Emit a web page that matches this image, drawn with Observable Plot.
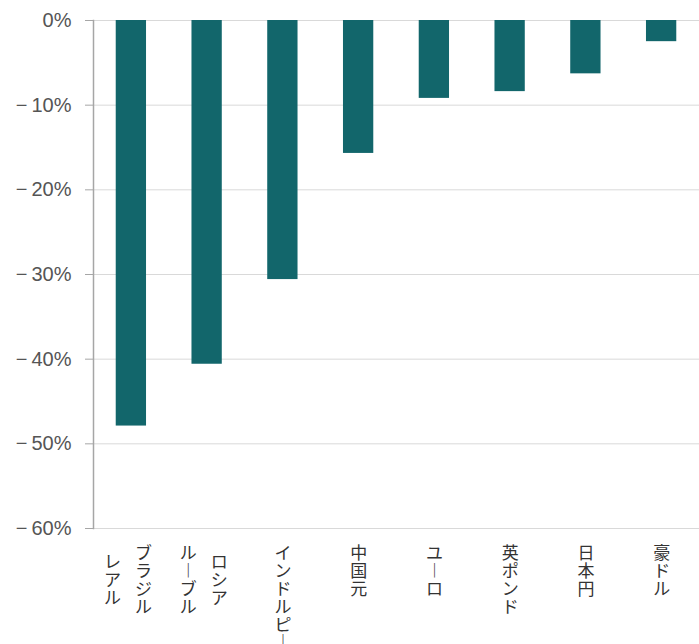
<!DOCTYPE html>
<html>
<head>
<meta charset="utf-8">
<script src="https://cdn.jsdelivr.net/npm/d3@7"></script>
<script src="https://cdn.jsdelivr.net/npm/@observablehq/plot@0.6"></script>
<style>
  html, body { margin: 0; padding: 0; background: #fff; }
  #chart svg { display: block; }
</style>
</head>
<body>
<div id="chart"></div>
<script>
// Currency changes against the US dollar (%)
const currencies = ["ブラジルレアル", "ロシアルーブル", "インドルピー", "中国元", "ユーロ", "英ポンド", "日本円", "豪ドル"];
const changes = [-47.9, -40.6, -30.6, -15.7, -9.2, -8.4, -6.3, -2.5];
// Vertical label columns, read right to left
const labelColumns = [["ブラジル", "レアル"], ["ロシア", "ルーブル"], ["インドルピー"], ["中国元"], ["ユーロ"], ["英ポンド"], ["日本円"], ["豪ドル"]];
const yTicks = [0, -10, -20, -30, -40, -50, -60];

const data = currencies.map((name, i) => ({name, value: changes[i]}));

const fontSize = 17;
const lineHeight = 1.05;
const pitch = fontSize * lineHeight;
const baseDy = 18;

// vertical text: one glyph per line, long vowel mark turned upright
const verticalize = (s) => Array.from(s).map(c => c === "ー" ? "︱" : c).join("\n");

const labelMarks = [];
currencies.forEach((name, i) => {
  const cols = labelColumns[i];
  const maxLen = d3.max(cols, c => Array.from(c).length);
  cols.forEach((col, j) => {
    const len = Array.from(col).length;
    const dx = cols.length === 1 ? 0 : (j === 0 ? 12 : -19);
    const dy = baseDy + (cols.length === 1 ? 0 : (maxLen - len) * pitch / 2);
    labelMarks.push(Plot.text([{name, text: verticalize(col)}], {
      x: "name",
      text: "text",
      frameAnchor: "bottom",
      lineAnchor: "top",
      dx, dy,
      fontSize,
      lineHeight,
      fill: "#333"
    }));
  });
});

const fmt = (d) => d === 0 ? "0%" : "−\u2009" + Math.abs(d) + "%";

const chart = Plot.plot({
  width: 699,
  height: 644,
  marginLeft: 93,
  marginRight: 0,
  marginTop: 20,
  marginBottom: 116,
  style: {fontFamily: "'Noto Sans CJK JP', sans-serif", background: "#fff"},
  x: {domain: currencies, paddingInner: 0.6, paddingOuter: 0.3, round: false, axis: null},
  y: {domain: [-60, 0], axis: null},
  marks: [
    Plot.ruleY(yTicks, {stroke: "#d9d9d9", strokeWidth: 1}),
    Plot.barY(data, {x: "name", y: "value", fill: "#12666b"}),
    Plot.frame({anchor: "left", stroke: "#a6a6a6", strokeWidth: 1.5}),
    Plot.axisY({
      ticks: yTicks,
      tickSize: 8,
      tickPadding: 14,
      tickFormat: fmt,
      label: null,
      stroke: "#a6a6a6",
      fill: "#555",
      fontSize: 20,
      fontFamily: "'Liberation Sans', Arial, sans-serif"
    }),
    ...labelMarks
  ]
});

document.getElementById("chart").appendChild(chart);
</script>
</body>
</html>
